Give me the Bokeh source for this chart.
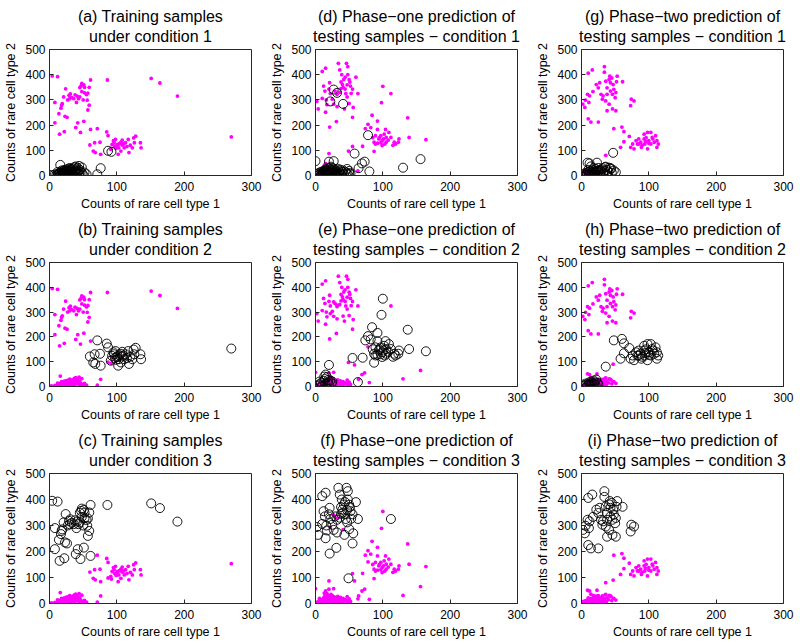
from bokeh.plotting import figure
from bokeh.layouts import column, row
from bokeh.models import Range1d, Title
from bokeh.embed import file_html
from bokeh.resources import INLINE

# ---------------- data ----------------
# Training samples, grouped by true condition
train_c1 = [(0,0),(3,2),(8,4),(10,1),(12,6),(13,3),(14,9),(15,0),(15,12),(16,42),(17,5),(18,2),(18,14),(19,8),(20,0),
            (20,18),(21,4),(22,11),(22,22),(23,6),(24,15),(25,1),(25,24),(26,9),(27,19),(28,3),(28,26),(29,13),(30,7),
            (30,30),(31,17),(32,2),(33,22),(34,10),(35,28),(35,5),(36,15),(37,33),(38,20),(38,8),(39,36),(40,25),(41,12),
            (42,30),(43,18),(44,6),(45,22),(46,14),(48,9),(50,3),(52,12),(55,5),(16,10),(20,6),(24,20),(28,14),(32,26),
            (36,2),(40,17),(22,0),(26,16),(30,21),(34,4),(18,20),(12,14),(71,5),(76,29),(87,98),(92,94),(44,38),(48,32)]
train_c2 = [(71,186),(85,173),(87,158),(60,121),(67,130),(75,132),(65,97),(68,91),(76,84),(91,104),(96,130),(98,143),
            (101,123),(103,110),(106,132),(108,121),(111,110),(113,130),(102,84),(118,91),(123,110),(125,149),(128,156),
            (126,130),(135,130),(136,110),(117,143),(93,123),(106,97),(270,153),(100,118),(104,126),(97,115),(110,125),
            (95,138),(120,120),(99,108),(108,140),(115,115)]
train_c3 = [(4,395),(12,392),(8,290),(8,209),(14,245),(17,267),(15,164),(22,174),(24,344),(21,312),(18,279),(19,285),
            (26,231),(23,235),(29,318),(31,324),(33,310),(36,305),(41,315),(43,305),(40,290),(45,349),(47,356),(51,360),
            (52,350),(48,333),(52,328),(55,321),(56,299),(57,327),(61,379),(59,350),(57,260),(59,279),(51,215),(42,209),
            (39,190),(46,171),(61,183),(86,379),(151,385),(164,367),(190,315),(48,365),(50,300),(45,312),(38,320),(27,300),
            (30,305)]

# Testing samples, phase-one predicted condition
test1_c1 = [(2,3),(4,8),(5,1),(6,12),(7,5),(8,0),(9,15),(10,7),(10,2),(11,10),(12,18),(12,4),(13,0),(14,8),(14,22),
            (15,13),(16,3),(16,25),(17,10),(18,6),(18,18),(19,0),(20,12),(20,28),(21,4),(22,16),(22,9),(23,22),(24,2),
            (24,14),(25,30),(25,7),(26,19),(27,11),(28,25),(28,3),(29,15),(30,8),(30,21),(31,0),(32,13),(33,27),(34,6),
            (35,17),(36,10),(37,23),(38,3),(40,14),(41,20),(42,7),(44,15),(46,11),(48,4),(50,18),(52,8),(15,20),(19,30),
            (23,35),(27,341),(32,328),(22,294),(41,284),(78,160),(58,87),(0,57),(64,29),(69,48),(73,55),(80,16),(130,31),
            (156,65),(20,55),(27,57),(47,26),(50,9)]
test1_c2 = [(55,115),(70,116),(74,186),(78,203),(84,239),(92,216),(89,158),(87,132),(89,125),(87,96),(92,183),(94,145),
            (97,158),(99,138),(102,164),(104,183),(105,151),(103,125),(105,132),(109,171),(112,151),(117,132),(119,125),
            (124,145),(123,132),(137,229),(139,151),(164,142),(100,354),(98,289),(82,190),(99,119),(95,150),(101,145),
            (108,140),(115,120),(92,128),(85,150),(97,130),(15,48),(20,87),(63,18),(2,2),(5,8),(8,14),(10,4),(12,22),
            (14,30),(15,10),(17,38),(18,16),(20,6),(22,24),(24,12),(13,40),(6,20),(9,0),(19,26),(25,20)]
test1_c3 = [(2,294),(4,264),(10,306),(12,355),(10,413),(15,426),(14,335),(16,300),(17,281),(15,251),(21,368),(20,343),
            (22,325),(21,192),(25,303),(27,283),(31,214),(32,273),(34,445),(36,419),(39,400),(38,371),(40,361),(42,381),
            (44,343),(46,445),(48,432),(45,325),(47,312),(48,400),(51,371),(52,355),(55,343),(53,326),(50,286),(56,270),
            (55,231),(60,390),(63,325),(38,345),(29,335),(32,322),(43,264),(112,325),(49,97),(44,390),(41,350),(47,360),
            (50,380),(36,330)]

# Testing samples, phase-two predicted condition
test2_c1 = [(0,0),(3,5),(5,2),(6,10),(7,0),(8,7),(9,51),(12,48),(10,14),(11,3),(12,9),(13,18),(14,1),(15,12),(16,6),
            (17,22),(18,15),(19,3),(20,10),(21,26),(22,18),(23,51),(23,6),(24,13),(25,30),(26,20),(27,2),(28,9),(29,16),
            (30,24),(31,29),(32,5),(33,12),(34,19),(35,33),(36,35),(37,8),(38,22),(40,15),(41,31),(43,29),(44,26),(45,11),
            (47,90),(48,20),(51,13),(14,36),(18,30),(10,22)]
test2_c2 = [(48,186),(60,192),(63,174),(58,112),(63,134),(71,155),(73,112),(78,106),(83,125),(85,145),(88,132),(89,112),
            (93,145),(94,125),(98,171),(98,106),(100,138),(103,171),(103,125),(105,151),(108,132),(110,158),(112,138),
            (112,112),(114,125),(93,164),(85,125),(76,125),(81,138),(36,80),(90,120),(96,150),(100,128),(106,145),(95,135),
            (1,1),(3,8),(5,4),(7,12),(8,2),(10,6),(11,16),(12,10),(13,3),(14,20),(15,8),(16,14),(17,2),(18,24),(19,11),
            (20,17),(21,5),(22,28),(24,14),(25,9)]
test2_c3 = [(2,283),(5,270),(6,299),(9,322),(12,316),(11,290),(10,406),(16,419),(10,225),(14,212),(25,212),(17,333),
            (22,361),(25,348),(27,368),(29,322),(31,303),(34,432),(34,410),(36,374),(38,348),(41,381),(42,394),(43,368),
            (45,387),(47,361),(43,335),(46,322),(48,342),(51,329),(50,309),(53,394),(52,372),(36,296),(41,283),(46,264),
            (51,257),(38,257),(61,372),(74,303),(78,296),(73,277),(32,316),(38,322)]

titles = {
    "a": ("(a) Training samples", "under condition 1"),
    "b": ("(b) Training samples", "under condition 2"),
    "c": ("(c) Training samples", "under condition 3"),
    "d": ("(d) Phase\u2212one prediction of", "testing samples \u2212 condition 1"),
    "e": ("(e) Phase\u2212one prediction of", "testing samples \u2212 condition 2"),
    "f": ("(f) Phase\u2212one prediction of", "testing samples \u2212 condition 3"),
    "g": ("(g) Phase\u2212two prediction of", "testing samples \u2212 condition 1"),
    "h": ("(h) Phase\u2212two prediction of", "testing samples \u2212 condition 2"),
    "i": ("(i) Phase\u2212two prediction of", "testing samples \u2212 condition 3"),
}
x_label = "Counts of rare cell type 1"
y_label = "Counts of rare cell type 2"
x_ticks = [0, 100, 200, 300]
y_ticks = [0, 100, 200, 300, 400, 500]

FONT = "Liberation Sans"
AX = "#262626"

col_w = [266, 266, 268]
row_h = [213, 211, 218]
frame_w = 202
frame_h = [128, 128, 130]
LEFT = 49
TOP = 49


def make_title(txt, standoff, valign):
    return Title(text=txt, align="center", vertical_align=valign, text_font=FONT,
                 text_font_size="16px", text_font_style="normal", text_color="black",
                 standoff=standoff)


def panel(key, groups, k, ci, ri):
    w, h = col_w[ci], row_h[ri]
    p = figure(width=w, height=h, x_range=Range1d(0, 300), y_range=Range1d(0, 500),
               output_backend="svg", toolbar_location=None, title=None,
               min_border_left=LEFT, min_border_right=w - LEFT - frame_w,
               min_border_top=TOP, min_border_bottom=h - TOP - frame_h[ri])
    line1, line2 = titles[key]
    p.add_layout(make_title(line2, 6, "top"), "above")
    p.add_layout(make_title(line1, 0, "bottom"), "above")
    p.xgrid.visible = False
    p.ygrid.visible = False
    p.outline_line_color = AX
    p.outline_line_alpha = 1.0
    for ax in (p.xaxis[0], p.yaxis[0]):
        ax.axis_line_color = AX
        ax.major_tick_line_color = AX
        ax.major_tick_in = 4
        ax.major_tick_out = 0
        ax.minor_tick_in = 0
        ax.minor_tick_out = 0
        ax.major_label_text_font = FONT
        ax.major_label_text_font_size = "12px"
        ax.major_label_text_color = "black"
        ax.axis_label_text_font = FONT
        ax.axis_label_text_font_size = "12.5px"
        ax.axis_label_text_font_style = "normal"
        ax.axis_label_text_color = "black"
    p.xaxis.major_label_standoff = 6
    p.xaxis.axis_label_standoff = 3
    p.yaxis.major_label_standoff = 4
    p.yaxis.axis_label_standoff = 4
    p.xaxis.ticker = x_ticks
    p.yaxis.ticker = y_ticks
    p.xaxis.axis_label = x_label
    p.yaxis.axis_label = y_label

    others = [pt for j, g in enumerate(groups) if j != k for pt in g]
    sel = groups[k]
    p.scatter([a for a, b in others], [b for a, b in others], size=3.8, marker="circle",
              fill_color="#ff00ff", line_color="#ff00ff", line_width=0)
    p.scatter([a for a, b in sel], [b for a, b in sel], size=9, marker="circle",
              fill_color=None, line_color="black", line_width=0.9)
    return p


train = [train_c1, train_c2, train_c3]
test1 = [test1_c1, test1_c2, test1_c3]
test2 = [test2_c1, test2_c2, test2_c3]

rows = []
for ri in range(3):
    rows.append(row(
        panel("abc"[ri], train, ri, 0, ri),
        panel("def"[ri], test1, ri, 1, ri),
        panel("ghi"[ri], test2, ri, 2, ri),
    ))
layout = column(*rows)

open("out.html", "w").write(file_html(layout, INLINE))
